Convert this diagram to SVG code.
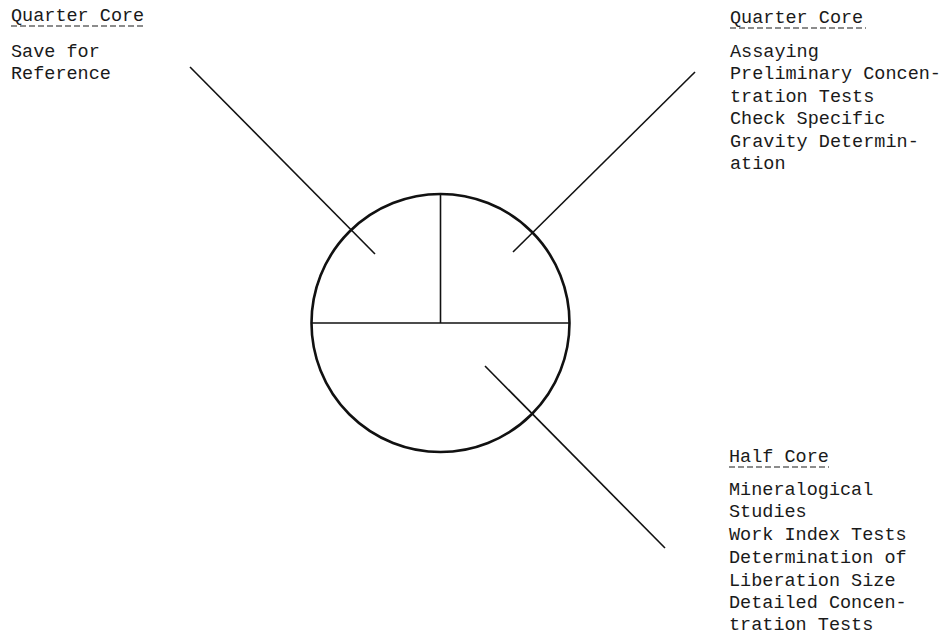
<svg xmlns="http://www.w3.org/2000/svg" width="950" height="637" viewBox="0 0 950 637">
<style>
.t{font-family:"Liberation Mono","DejaVu Sans Mono",monospace;font-size:18.5px;fill:#1a1a1a}
.u{stroke:#1a1a1a;stroke-width:1.2;stroke-dasharray:6,3;fill:none}
.s{stroke:#111;fill:none;stroke-width:1.6}
.c{stroke:#111;fill:none;stroke-width:2.6}
</style>
<rect width="950" height="637" fill="#fff"/>
<g id="core">
<circle class="c" cx="440.5" cy="323" r="129"/>
<line class="s" x1="311.5" y1="323" x2="569.5" y2="323" stroke-width="2"/>
<line class="s" x1="440.5" y1="194" x2="440.5" y2="323" stroke-width="2"/>
</g>
<g id="connectors">
<line class="s" x1="190" y1="67" x2="375" y2="254"/>
<line class="s" x1="695" y1="72" x2="513" y2="252"/>
<line class="s" x1="485" y1="366" x2="665" y2="548"/>
</g>
<g id="quarter-left">
<text class="t" x="11" y="21">Quarter Core</text>
<line class="u" x1="11" y1="26" x2="146" y2="26"/>
<text class="t" x="11" y="57">Save for</text>
<text class="t" x="11" y="79">Reference</text>
</g>
<g id="quarter-right">
<text class="t" x="730" y="23">Quarter Core</text>
<line class="u" x1="730" y1="28" x2="866" y2="28"/>
<text class="t" x="730" y="57">Assaying</text>
<text class="t" x="730" y="79">Preliminary Concen-</text>
<text class="t" x="730" y="102">tration Tests</text>
<text class="t" x="730" y="124">Check Specific</text>
<text class="t" x="730" y="147">Gravity Determin-</text>
<text class="t" x="730" y="169">ation</text>
</g>
<g id="half">
<text class="t" x="729" y="462">Half Core</text>
<line class="u" x1="729" y1="467" x2="829" y2="467"/>
<text class="t" x="729" y="495">Mineralogical</text>
<text class="t" x="729" y="517">Studies</text>
<text class="t" x="729" y="540">Work Index Tests</text>
<text class="t" x="729" y="563">Determination of</text>
<text class="t" x="729" y="586">Liberation Size</text>
<text class="t" x="729" y="608">Detailed Concen-</text>
<text class="t" x="729" y="630">tration Tests</text>
</g>
</svg>
